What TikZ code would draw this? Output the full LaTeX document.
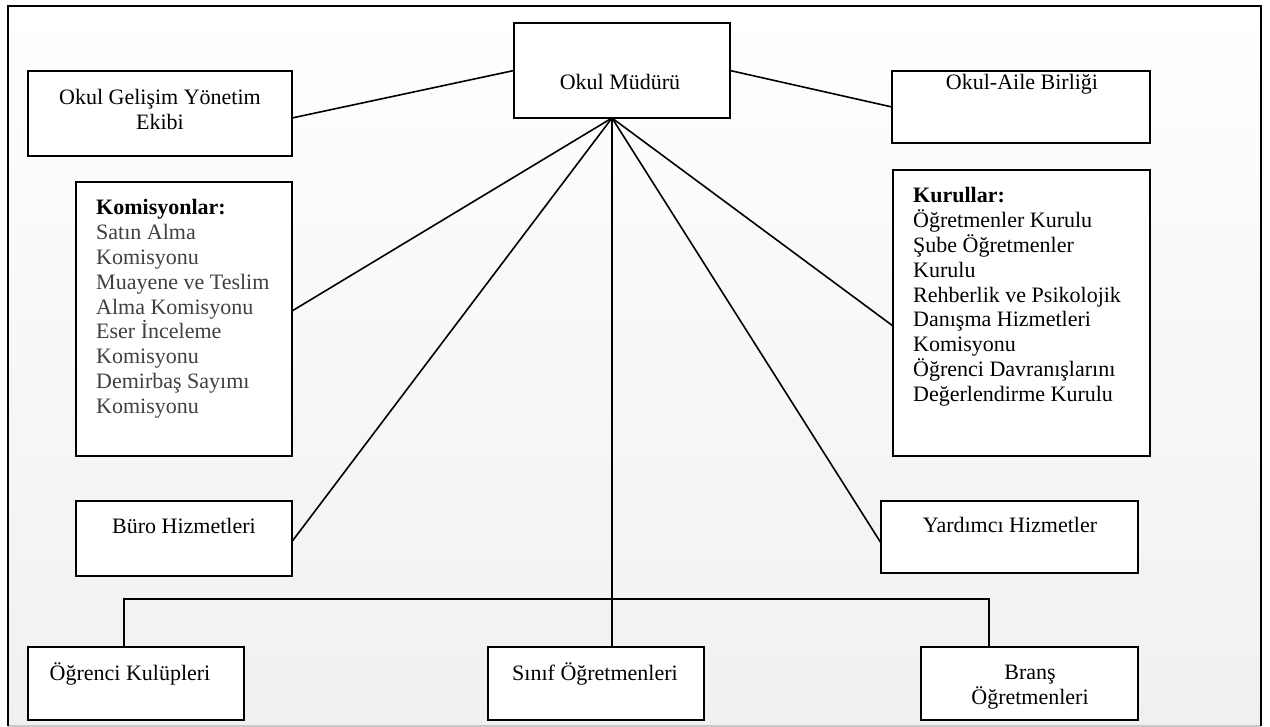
\documentclass[tikz,border=0pt]{standalone}
\usepackage{fontspec}
\setmainfont{Liberation Serif}
\usetikzlibrary{calc}
\definecolor{komgray}{RGB}{64,64,64}
\definecolor{bgbot}{RGB}{240,240,240}
\definecolor{framebot}{RGB}{200,200,200}
\begin{document}
\begin{tikzpicture}[x=1pt,y=-1pt,
  box/.style={draw, line width=1.8pt, fill=white, inner sep=0pt, outer sep=0pt, anchor=north west},
  conn/.style={line width=1.6pt},
  txt/.style={inner sep=0pt, font=\fontsize{22}{24.9}\selectfont}]
\useasboundingbox (0,0) rectangle (1270,727);
% background and frame
\shade[top color=white, bottom color=bgbot] (8,6) rectangle (1261,726);
\draw[line width=1.5pt, framebot] (8,726) -- (1261,726);
\draw[line width=2.5pt] (8,726) -- (8,6) -- (1261,6) -- (1261,726);

% boxes
\node[box, minimum width=216pt, minimum height=95pt] (om) at (514,23) {};
\node[box, minimum width=264pt, minimum height=85pt] (ogye) at (28,71) {};
\node[box, minimum width=258pt, minimum height=72pt] (oab) at (892,71) {};
\node[box, minimum width=216pt, minimum height=274pt] (kom) at (76,182) {};
\node[box, minimum width=257pt, minimum height=286pt] (kur) at (893,170) {};
\node[box, minimum width=216pt, minimum height=75pt] (buro) at (76,501) {};
\node[box, minimum width=257pt, minimum height=72pt] (yard) at (881,501) {};
\node[box, minimum width=216pt, minimum height=73pt] (ogr) at (28,647) {};
\node[box, minimum width=216pt, minimum height=73pt] (sinif) at (488,647) {};
\node[box, minimum width=217pt, minimum height=73pt] (brans) at (921,647) {};

% texts
\node[txt, anchor=base] (omt) at (620,90) {Okul Müdürü};
\node[txt, anchor=north, align=center] (ogyet) at (160,89) {Okul Gelişim Yönetim\\Ekibi};
\node[txt, anchor=base] (oabt) at (1022,90) {Okul-Aile Birliği};
\node[txt, anchor=north west, align=left] (komt) at (96,199) {\textbf{Komisyonlar:}\\\color{komgray}Satın Alma\\\color{komgray}Komisyonu\\\color{komgray}Muayene ve Teslim\\\color{komgray}Alma Komisyonu\\\color{komgray}Eser İnceleme\\\color{komgray}Komisyonu\\\color{komgray}Demirbaş Sayımı\\\color{komgray}Komisyonu};
\node[txt, anchor=north west, align=left] (kurt) at (913,187) {\textbf{Kurullar:}\\Öğretmenler Kurulu\\Şube Öğretmenler\\Kurulu\\Rehberlik ve Psikolojik\\Danışma Hizmetleri\\Komisyonu\\Öğrenci Davranışlarını\\Değerlendirme Kurulu};
\node[txt, anchor=base] (burot) at (184,533) {Büro Hizmetleri};
\node[txt, anchor=base] (yardt) at (1010,532) {Yardımcı Hizmetler};
\node[txt, anchor=base] (ogrt) at (130,680) {Öğrenci Kulüpleri};
\node[txt, anchor=base] (sinift) at (595,680) {Sınıf Öğretmenleri};
\node[txt, anchor=north, align=center] (branst) at (1030,665) {Branş\\Öğretmenleri};

% connectors
\coordinate (apex) at (612,118);
\coordinate (b1) at (124,599);
\coordinate (b2) at (989,599);
\draw[conn] ($(ogye.east)+(0,4.5)$) -- (om.west);
\draw[conn] (om.east) -- (oab.west);
\draw[conn] (apex) -- ($(kom.east)+(0,-8)$);
\draw[conn] (apex) -- ($(buro.east)+(0,3)$);
\draw[conn] (apex) -- (apex |- sinif.north);
\draw[conn] (apex) -- ($(kur.west)+(0,13)$);
\draw[conn] (apex) -- ($(yard.west)+(0,6)$);
\draw[conn] (b1 |- ogr.north) -- (b1) -- (b2) -- (b2 |- brans.north);
\end{tikzpicture}
\end{document}
